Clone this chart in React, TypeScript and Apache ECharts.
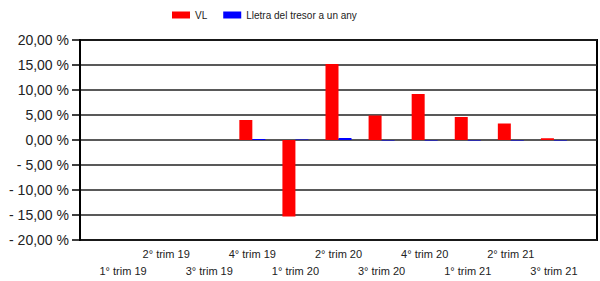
import React, { useEffect, useRef } from "react";
import * as echarts from "echarts";

const categories = ["", "1° trim 19", "2° trim 19", "3° trim 19", "4° trim 19", "1° trim 20", "2° trim 20", "3° trim 20", "4° trim 20", "1° trim 21", "2° trim 21", "3° trim 21", ""];
const vlValues: (number | null)[] = [null, null, null, null, 4.0, -15.3, 15.2, 4.9, 9.2, 4.6, 3.3, 0.35, null];
const letraValues: (number | null)[] = [null, null, null, null, 0.2, 0.1, 0.4, -0.1, -0.1, -0.1, -0.1, -0.1, null];
const seriesNames = ["VL", "Lletra del tresor a un any"];
const yTicks = { min: -20, max: 20, interval: 5 };

export default function App() {
  const ref = useRef<HTMLDivElement>(null);
  useEffect(() => {
    if (!ref.current) return;
    const chart = echarts.init(ref.current, undefined, { renderer: "svg" });
    const font = "'Liberation Sans', Arial, sans-serif";
    chart.setOption({
      animation: false,
      textStyle: { fontFamily: font },
      legend: {
        top: 10,
        left: 172,
        padding: 0,
        itemWidth: 18,
        itemHeight: 7,
        itemGap: 16,
        icon: "rect",
        textStyle: { fontSize: 10, color: "#222", fontFamily: font },
        data: seriesNames,
      },
      grid: { left: 80, right: 2, top: 40, bottom: 41, show: true, borderColor: "#000", borderWidth: 2, backgroundColor: "transparent" },
      xAxis: {
        type: "category",
        data: categories,
        boundaryGap: false,
        axisLine: { show: false },
        axisTick: { show: false },
        splitLine: { show: false },
        axisLabel: {
          interval: 0,
          margin: 5,
          fontSize: 11,
          color: "#222",
          lineHeight: 17,
          fontFamily: font,
          formatter: (v: string, i: number) => (i % 2 === 1 ? "\n" + v : v),
        },
      },
      yAxis: {
        type: "value",
        min: yTicks.min,
        max: yTicks.max,
        interval: yTicks.interval,
        axisLine: { show: true, lineStyle: { color: "#000", width: 2 } },
        axisTick: { show: true, length: 8, lineStyle: { color: "#000", width: 1.5 } },
        splitLine: { show: true, lineStyle: { color: "#222", width: 1.5 } },
        axisLabel: {
          fontSize: 14,
          color: "#222",
          margin: 11,
          fontFamily: font,
          formatter: (v: number) => (v < 0 ? "- " : "") + Math.abs(v).toFixed(2).replace(".", ",") + " %",
        },
      },
      series: [
        { name: seriesNames[0], type: "bar", data: vlValues, barWidth: 13, barGap: "0%", itemStyle: { color: "#ff0000" } },
        { name: seriesNames[1], type: "bar", data: letraValues, barWidth: 13, barGap: "0%", itemStyle: { color: "#0000ff" } },
      ],
    });
    return () => chart.dispose();
  }, []);
  return <div ref={ref} style={{ position: "fixed", left: 0, top: 0, width: 600, height: 281, background: "#fff" }} />;
}
